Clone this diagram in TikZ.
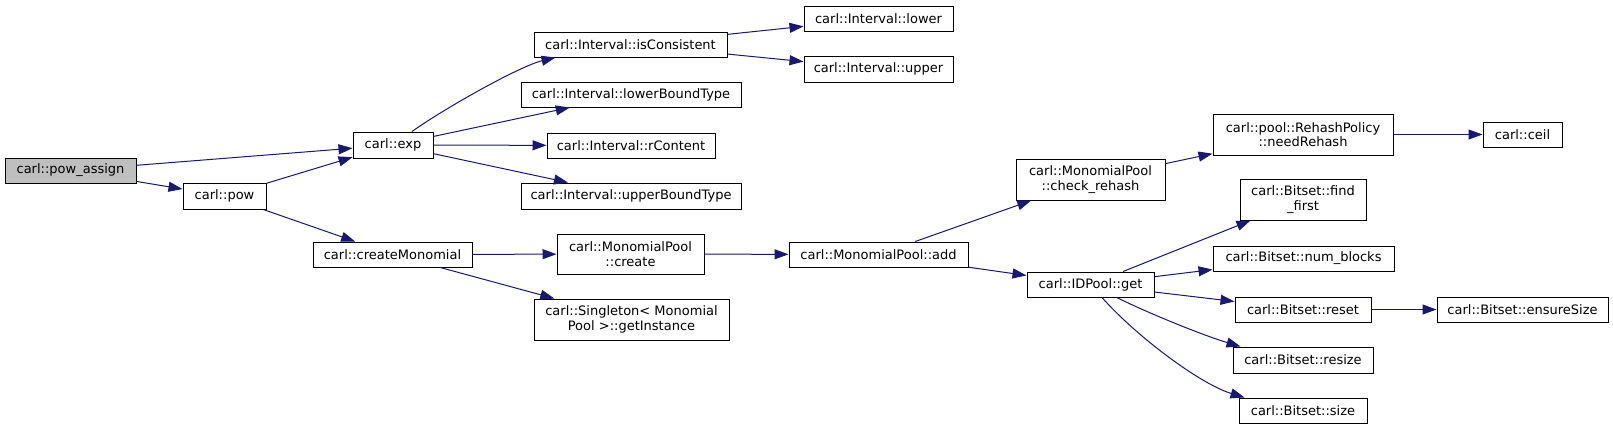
\documentclass[tikz,border=0pt]{standalone}
\usepackage{fontspec}
\setmainfont{DejaVu Sans}
\usetikzlibrary{arrows.meta}
\definecolor{edgeblue}{HTML}{191970}
\definecolor{rootfill}{HTML}{BFBFBF}
\begin{document}
\begin{tikzpicture}[x=1pt,y=-1pt,
  fn/.style={draw=black, line width=1pt, fill=white, inner sep=0pt,
             font=\fontsize{13}{14.5}\selectfont, align=center},
  call/.style={draw=edgeblue, line width=1pt,
             -{Triangle[length=14pt,width=10pt]}}]
\useasboundingbox (0,0) rectangle (1613,429);

% rank 0-2
\node[fn, fill=rootfill, minimum width=131pt, minimum height=25pt] (pa) at (70.5,170.5) {carl::pow\_assign};
\node[fn, minimum width=83pt, minimum height=26pt] (pow) at (224.5,196) {carl::pow};
\node[fn, minimum width=80pt, minimum height=26pt] (exp) at (393,145) {carl::exp};
\node[fn, minimum width=159pt, minimum height=25pt] (cm) at (392.5,254.5) {carl::createMonomial};

% rank 3
\node[fn, minimum width=193pt, minimum height=25pt] (isc) at (630.5,44.5) {carl::Interval::isConsistent};
\node[fn, minimum width=220pt, minimum height=25pt] (lbt) at (631,94.5) {carl::Interval::lowerBoundType};
\node[fn, minimum width=168pt, minimum height=25pt] (rc) at (631,145.5) {carl::Interval::rContent};
\node[fn, minimum width=220pt, minimum height=26pt] (ubt) at (631,196) {carl::Interval::upperBoundType};
\node[fn, minimum width=147pt, minimum height=40pt] (cr) at (630.5,254) {carl::MonomialPool\\::create};
\node[fn, minimum width=195pt, minimum height=41pt] (sg) at (631.5,319.5) {carl::Singleton< Monomial\\Pool >::getInstance};

% rank 4
\node[fn, minimum width=149pt, minimum height=25pt] (lo) at (878.5,18.5) {carl::Interval::lower};
\node[fn, minimum width=149pt, minimum height=26pt] (up) at (878.5,69) {carl::Interval::upper};
\node[fn, minimum width=179pt, minimum height=25pt] (add) at (878.5,254.5) {carl::MonomialPool::add};

% rank 5
\node[fn, minimum width=149pt, minimum height=41pt] (chk) at (1090.5,179.5) {carl::MonomialPool\\::check\_rehash};
\node[fn, minimum width=127pt, minimum height=25pt] (get) at (1090.5,284.5) {carl::IDPool::get};

% rank 6
\node[fn, minimum width=180pt, minimum height=41pt] (nr) at (1303,134.5) {carl::pool::RehashPolicy\\::needRehash};
\node[fn, minimum width=126pt, minimum height=41pt] (ff) at (1303,199.5) {carl::Bitset::find\\\_first};
\node[fn, minimum width=181pt, minimum height=25pt] (nb) at (1303.5,258.5) {carl::Bitset::num\_blocks};
\node[fn, minimum width=136pt, minimum height=25pt] (rs) at (1303,309.5) {carl::Bitset::reset};
\node[fn, minimum width=140pt, minimum height=26pt] (rz) at (1303,360) {carl::Bitset::resize};
\node[fn, minimum width=128pt, minimum height=25pt] (sz) at (1303,410.5) {carl::Bitset::size};

% rank 7
\node[fn, minimum width=79pt, minimum height=25pt] (ceil) at (1522.5,134.5) {carl::ceil};
\node[fn, minimum width=171pt, minimum height=25pt] (es) at (1522.5,309.5) {carl::Bitset::ensureSize};

% edges
\draw[call] (pa) -- (exp);
\draw[call] (pa) -- (pow);
\draw[call] (pow) -- (exp);
\draw[call] (pow) -- (cm);
\draw[call] (exp) .. controls (445,108) and (520,66) .. ([xshift=22pt]isc.south west);
\draw[call] (exp) -- (lbt);
\draw[call] (exp) -- (rc);
\draw[call] (exp) -- (ubt);
\draw[call] (isc) -- (lo);
\draw[call] (isc) -- (up);
\draw[call] (cm) -- (cr);
\draw[call] (cm) -- (sg);
\draw[call] (cr) -- (add);
\draw[call] (add) -- (chk);
\draw[call] (add) -- (get);
\draw[call] (chk) -- (nr);
\draw[call] (nr) -- (ceil);
\draw[call] (get) -- (ff);
\draw[call] (get) -- (nb);
\draw[call] (get) -- (rs);
\draw[call] (get) .. controls (1150,314) and (1205,336) .. ([xshift=8pt]rz.north west);
\draw[call] (get) .. controls (1136,336) and (1200,384) .. ([xshift=6pt]sz.north west);
\draw[call] (rs) -- (es);
\end{tikzpicture}
\end{document}
